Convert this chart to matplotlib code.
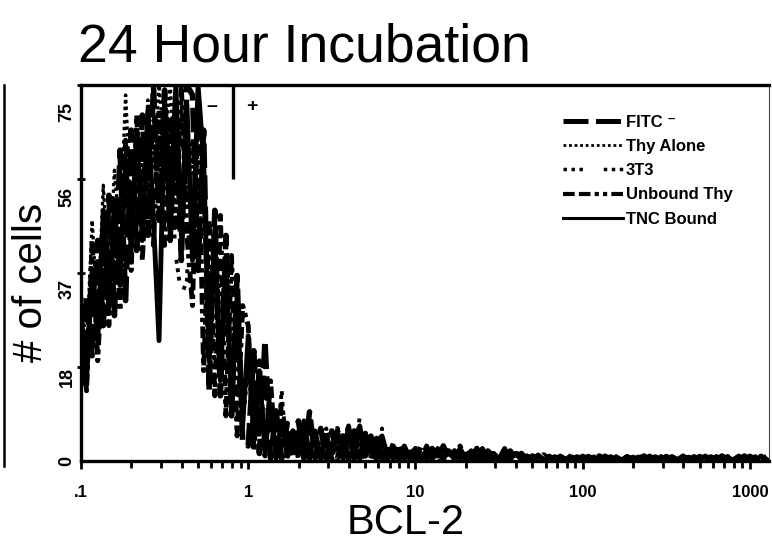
import numpy as np
import matplotlib
matplotlib.use('Agg')
from matplotlib import pyplot as plt
from matplotlib.lines import Line2D
from matplotlib.ticker import LogLocator, NullFormatter

plt.rcParams['font.family'] = ['Liberation Sans', 'DejaVu Sans']

# histogram channels: 30 channels per decade starting at 0.1
channels = np.arange(124)
bcl2 = 0.1 * 10 ** (channels / 30)

tnc_bound = [30, 16, 38, 24, 50, 30, 52, 35, 60, 42,
             66, 44, 70, 48, 24, 72, 46, 75, 45, 71,
             40, 75, 60, 20, 46, 16, 40, 12, 33, 7,
             25, 4, 18, 2, 11, 1, 8, 1, 6, 1.5,
             8, 1, 6, 0.5, 5, 1.5, 6, 0.5, 7, 1,
             7, 1, 5, 0.5, 5, 1, 3, 0.5, 2.5, 0.5,
             2.5, 0.5, 2, 0.3, 2.5, 0.5, 2, 0.3, 2.5, 0.5,
             2, 0.3, 2.5, 0.5, 1.5, 0.3, 2, 0.5, 1.5, 0.3,
             1, 0.3, 1.2, 0.3, 0.8, 0.3, 1, 0.3, 0.8, 0.2,
             1, 0.3, 0.8, 0.2, 1, 0.3, 0.7, 0.2, 0.9, 0.3,
             0.8, 0.2, 1, 0.3, 0.7, 0.2, 0.9, 0.3, 1, 0.2,
             0.8, 0.3, 1, 0.2, 0.9, 0.3, 0.7, 0.2, 1, 0.3,
             0.9, 0.2, 1, 0.3]

fitc_neg = [15, 33, 21, 44, 27, 53, 29, 62, 32, 66,
            42, 69, 45, 75, 48, 74, 44, 72, 40, 75,
            73, 38, 66, 14, 50, 13, 45, 9, 37, 4,
            3, 22, 1.5, 24, 0.5, 10, 0.5, 7.5, 0.5, 8,
            0.5, 9.8, 0.5, 6.5, 0.3, 6, 0.5, 5, 0.3, 6,
            0.5, 5.5, 0.3, 4.5, 0.3, 3.5, 0.5, 3.5, 0.3, 3,
            0.3, 3, 0.5, 2.5, 0.3, 3, 0.3, 2, 0.5, 2.5,
            0.3, 2.5, 0.3, 2, 0.5, 1.5, 0.3, 2, 0.3, 1.5,
            0.3, 1, 0.2, 1.2, 0.3, 0.8, 0.2, 1, 0.3, 0.8,
            0.2, 0.9, 0.3, 1, 0.2, 0.8, 0.3, 1, 0.2, 0.7,
            0.3, 1, 0.2, 0.8, 0.3, 0.9, 0.2, 1, 0.3, 0.7,
            0.2, 0.9, 0.3, 0.8, 0.2, 1, 0.3, 0.8, 0.2, 1,
            0.3, 0.8, 0.2, 0.9]

thy_alone = [34, 22, 48, 28, 55, 35, 58, 45, 73, 50,
             60, 52, 72, 58, 75, 62, 75, 55, 70, 50,
             62, 45, 52, 30, 42, 25, 34, 16, 28, 10,
             18, 6, 14, 3, 9, 2, 6, 1, 5, 1,
             5, 1, 4, 2, 5, 0.5, 4, 1, 5, 0.5,
             4, 0.5, 3, 1, 3, 0.5, 2, 0.5, 2, 0.3,
             2, 0.3, 1.5, 0.5, 2, 0.3, 1.5, 0.5, 2, 0.3,
             1.5, 0.5, 2, 0.3, 1, 0.5, 1.5, 0.3, 1, 0.5,
             0.8, 0.3, 1, 0.2, 0.7, 0.3, 0.9, 0.2, 1, 0.3,
             0.7, 0.2, 0.9, 0.3, 0.8, 0.2, 1, 0.3, 0.7, 0.2,
             0.9, 0.3, 0.7, 0.2, 1, 0.3, 0.8, 0.2, 0.9, 0.3,
             0.7, 0.2, 0.9, 0.3, 0.8, 0.2, 1, 0.3, 0.7, 0.2,
             0.8, 0.3, 0.9, 0.2]

t3t3 = [20, 30, 26, 40, 31, 47, 36, 52, 38, 58,
        48, 64, 50, 68, 52, 70, 58, 41, 33, 36,
        66, 40, 58, 22, 44, 18, 38, 12, 30, 6,
        20, 3, 16, 1.5, 12, 1, 14, 0.5, 7, 0.5,
        7, 0.5, 6, 1, 6.5, 0.5, 5, 1, 8, 0.5,
        8.8, 0.5, 5.5, 0.5, 6.5, 0.3, 3, 0.5, 3, 0.3,
        3, 0.5, 2.5, 0.3, 2, 0.5, 3, 0.3, 2, 0.5,
        2.5, 0.3, 1.5, 0.5, 2.5, 0.3, 1, 0.5, 2, 0.3,
        1.2, 0.3, 0.8, 0.2, 1, 0.3, 0.8, 0.2, 0.9, 0.3,
        0.8, 0.3, 1, 0.2, 0.7, 0.3, 0.9, 0.2, 1, 0.3,
        0.7, 0.2, 0.9, 0.3, 0.8, 0.2, 1, 0.3, 0.7, 0.2,
        1, 0.3, 0.7, 0.2, 0.9, 0.3, 0.8, 0.2, 1, 0.3,
        0.7, 0.2, 1, 0.3]

unbound_thy = [26, 14, 44, 20, 42, 27, 50, 30, 64, 38,
               69, 40, 62, 43, 70, 43, 68, 46, 75, 45,
               31, 70, 18, 48, 13, 49, 9, 41, 5, 31,
               27, 2, 20, 1, 16, 0.5, 12, 0.5, 6, 0.5,
               6, 0.3, 5, 0.5, 6, 0.3, 6.5, 0.5, 5, 0.3,
               6, 0.3, 5, 0.5, 4.5, 0.3, 3.5, 0.3, 3, 0.5,
               2.5, 0.3, 3, 0.5, 2.5, 0.3, 2, 0.5, 3, 0.3,
               2, 0.5, 2, 0.3, 1.5, 0.5, 2.5, 0.3, 1.5, 0.5,
               1, 0.2, 0.9, 0.3, 1, 0.2, 0.8, 0.3, 1.2, 0.2,
               0.9, 0.3, 0.7, 0.2, 1, 0.3, 0.8, 0.2, 0.9, 0.3,
               1, 0.3, 0.8, 0.2, 0.9, 0.3, 0.7, 0.2, 1, 0.3,
               0.9, 0.2, 0.8, 0.3, 1, 0.2, 0.9, 0.3, 0.8, 0.2,
               1, 0.3, 0.8, 0.2]

x_ticks = [0.1, 1, 10, 100, 1000]
x_labels = ['.1', '1', '10', '100', '1000']
y_marks = [0, 18.75, 37.5, 56.25, 75]
y_label_pos = [0, 16.7, 34.4, 52.7, 69.6]
y_labels = ['0', '18', '37', '56', '75']
gate = 0.81

W, H = 772, 546
fig = plt.figure(figsize=(W / 100, H / 100), dpi=100)
ax = fig.add_axes([81 / W, 1 - 461 / H, 688 / W, 376 / H])

# (values, label, style in plot, style in legend)
series = [
    (fitc_neg, 'FITC \u207b',
     dict(lw=4.0, ls=(0, (4.4, 1.3))), dict(lw=3.6, ls=(0, (5, 1.5)))),
    (thy_alone, 'Thy Alone',
     dict(lw=2.4, ls=(0, (1, 1))), dict(lw=2.0, ls=(0, (1, 1)))),
    (t3t3, '3T3',
     dict(lw=2.8, ls=(0, (1, 1.2, 1, 1.2, 1, 5.5))), dict(lw=2.5, ls=(0, (1, 1.3, 1, 1.3, 1, 6)))),
    (unbound_thy, 'Unbound Thy',
     dict(lw=3.5, ls=(0, (2.4, 0.9, 2.4, 0.9, 0.9, 0.9, 0.9, 0.9))),
     dict(lw=3.0, ls=(0, (2.8, 1, 2.8, 1, 1, 1, 1, 1)))),
    (tnc_bound, 'TNC Bound', dict(lw=3.5, ls='-'), dict(lw=2.2, ls='-')),
]
handles = []
for vals, name, st, lst in series:
    ax.plot(bcl2, vals, color='black', **st)
    handles.append(Line2D([], [], color='black', label=name, **lst))

# gate marker
ax.plot([gate, gate], [56.25, 75], color='black', lw=2.4, solid_capstyle='butt')
ax.text(0.607, 70.8, '\u2013', fontsize=14, fontweight='bold', ha='center', va='center')
ax.text(1.054, 70.8, '+', fontsize=14, fontweight='bold', ha='center', va='center')

ax.set_xscale('log')
ax.set_xlim(0.1, 1300)
ax.set_ylim(0, 75)
ax.set_xticks(x_ticks, x_labels, fontsize=12, fontweight='bold')
ax.xaxis.set_minor_locator(LogLocator(base=10, subs=np.arange(2, 10)))
ax.xaxis.set_minor_formatter(NullFormatter())
ax.tick_params(axis='x', which='major', direction='out', length=6, width=2, pad=11)
ax.tick_params(axis='x', which='minor', direction='out', length=5, width=2)

ax.set_yticks(y_label_pos, y_labels, fontsize=13, fontweight='bold', rotation=90, va='center')
ax.set_yticks(y_marks, minor=True)
ax.tick_params(axis='y', which='major', length=0, pad=4)
ax.tick_params(axis='y', which='minor', direction='inout', length=6, width=2)

for s in ['left', 'bottom', 'top']:
    ax.spines[s].set_linewidth(2.4)
ax.spines['right'].set_linewidth(0.8)
ax.spines['right'].set_color('#444444')

ax.legend(handles=handles, loc='upper left', bbox_to_anchor=(563 / W, 1 - 115 / H),
          bbox_transform=fig.transFigure, frameon=False, borderpad=0,
          borderaxespad=0, handlelength=3.6, handletextpad=0.15,
          labelspacing=0.55,
          prop={'family': ['Liberation Sans', 'DejaVu Sans'], 'weight': 'bold', 'size': 12})

fig.text(78 / W, 1 - 62 / H, '24 Hour Incubation', fontsize=38.5, ha='left', va='baseline')
fig.text(31 / W, 1 - 282 / H, '# of cells', fontsize=29, rotation=90, ha='center', va='center')
fig.text(406 / W, 1 - 523 / H, 'BCL-2', fontsize=30, ha='center', va='center')

# scan edge at far left
fig.add_artist(Line2D([4 / W, 4 / W], [1 - 85 / H, 1 - 466 / H], color='black', lw=1.8))

fig.savefig('out.png', dpi=100)
